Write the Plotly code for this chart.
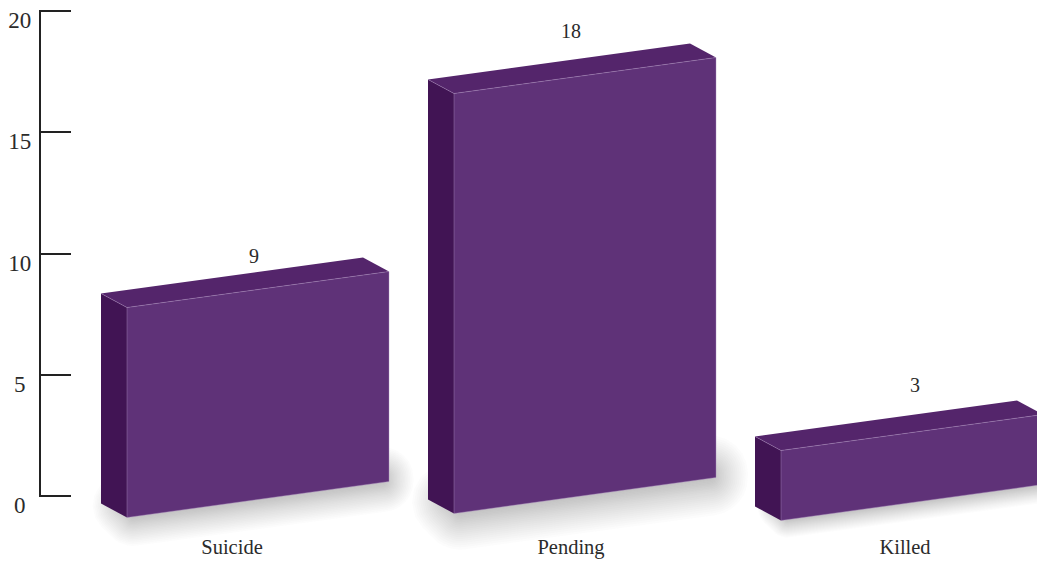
import math
import plotly.graph_objects as go

# ---------- data ----------
categories = ["Suicide", "Pending", "Killed"]
values = [9, 18, 3]
axis_ticks = [0, 5, 10, 15, 20]

# ---------- page / projection settings ----------
W, H = 1037, 563
FONT = "Liberation Serif"
TEXT = "#2b2b2b"
FRONT, TOP, SIDE = "#5f3278", "#54256b", "#411454"
EDGE = "rgba(170,140,190,0.7)"

BAND_PX = 327.0          # one band along x, in pixels
ORIGIN_PX = 127.0        # pixel column of band 0
UNIT_PX = 70 / 3         # pixels per value unit for the bars
BASE_PX = 517.5          # pixel row of the first bar's floor
AX_TOP_PX, AX_ZERO_PX = 11.0, 496.0
AX_UNIT_PX = (AX_ZERO_PX - AX_TOP_PX) / 20
AX_PAD = 1.2             # pixels of axis beyond the end ticks, so they are kept

BAR_W = 262 / BAND_PX
RISE = 36 / UNIT_PX       # how far the right end of a bar climbs
DEPTH_X = -26 / BAND_PX
DEPTH_Y = 14 / UNIT_PX
floor_shift = [0.0, 4 / UNIT_PX, -3 / UNIT_PX]
value_label_x = [(254 - ORIGIN_PX) / BAND_PX, (571 - ORIGIN_PX) / BAND_PX, (915 - ORIGIN_PX) / BAND_PX]
value_label_lift = [17.5, 28.5, 32]
cat_label_x = [(232 - ORIGIN_PX) / BAND_PX, (571 - ORIGIN_PX) / BAND_PX, (905 - ORIGIN_PX) / BAND_PX]


def px_x(dx):
    return dx / BAND_PX


def px_y(dy):
    return dy / UNIT_PX


def rounded_outset(points, r):
    """Rounded outset of a convex polygon, worked in pixel space."""
    pts = [((x * BAND_PX), (y * UNIT_PX)) for x, y in points]
    cx = sum(p[0] for p in pts) / len(pts)
    cy = sum(p[1] for p in pts) / len(pts)
    pts = sorted(pts, key=lambda p: math.atan2(p[1] - cy, p[0] - cx))
    out = []
    n = len(pts)
    for i in range(n):
        p0, p1, p2 = pts[i - 1], pts[i], pts[(i + 1) % n]
        a0 = math.atan2(-(p1[0] - p0[0]), p1[1] - p0[1])
        a1 = math.atan2(-(p2[0] - p1[0]), p2[1] - p1[1])
        if a1 < a0:
            a1 += 2 * math.pi
        for s in range(7):
            a = a0 + (a1 - a0) * s / 6
            out.append((p1[0] + r * math.cos(a), p1[1] + r * math.sin(a)))
    out.append(out[0])
    return [p[0] / BAND_PX for p in out], [p[1] / UNIT_PX for p in out]


fig = go.Figure()


def poly(xs, ys, color, **kw):
    fig.add_trace(go.Scatter(x=xs, y=ys, yaxis="y2", mode="lines", fill="toself",
                             fillcolor=color, line=dict(width=0), hoverinfo="skip",
                             showlegend=False, **kw))


# soft floor shadows
for i, v in enumerate(values):
    x0, x1 = i, i + BAR_W
    f = floor_shift[i]
    k = {3: 0.5, 9: 0.8, 18: 1.0}.get(v, 1.0)
    core = [
        (x0 + px_x(-4), f + px_y(12)),
        (x0 + px_x(6), f + px_y(2)),
        (x1 - px_x(6), f + RISE),
        (x1 - px_x(6), f + RISE + px_y(4)),
    ]
    layers = 22
    spread = 38 * k
    alpha = 0.021 if v > 3 else 0.02
    for l in range(layers):
        r = spread * (1 - l / layers) ** 1.25
        xs, ys = rounded_outset(core, r)
        poly(xs, ys, f"rgba(78,80,86,{alpha})")

# the boxes
for i, v in enumerate(values):
    x0, x1 = i, i + BAR_W
    f = floor_shift[i]
    bl, br = f, f + RISE
    tl, tr = f + v, f + RISE + v
    poly([x0 + DEPTH_X, x0, x0, x0 + DEPTH_X, x0 + DEPTH_X],
         [bl + DEPTH_Y, bl, tl, tl + DEPTH_Y, bl + DEPTH_Y], SIDE)
    poly([x0, x1, x1 + DEPTH_X, x0 + DEPTH_X, x0],
         [tl, tr, tr + DEPTH_Y, tl + DEPTH_Y, tl], TOP)
    poly([x0, x1, x1, x0, x0], [bl, br, tr, tl, bl], FRONT)
    fig.add_trace(go.Scatter(
        x=[x0 + DEPTH_X, x0, x1, x1, x0, None, x0, x0],
        y=[tl + DEPTH_Y, tl, tr, br, bl, None, bl, tl],
        yaxis="y2", mode="lines", line=dict(color=EDGE, width=0.6),
        hoverinfo="skip", showlegend=False))

# value labels above each box
fig.add_trace(go.Scatter(
    x=value_label_x,
    y=[floor_shift[i] + v + RISE / 2 + DEPTH_Y + px_y(value_label_lift[i]) for i, v in enumerate(values)],
    yaxis="y2", mode="text", text=[str(v) for v in values],
    textposition="middle center",
    textfont=dict(family=FONT, size=20, color=TEXT),
    hoverinfo="skip", showlegend=False))

# invisible trace that keeps the printed value axis alive
fig.add_trace(go.Scatter(x=[None], y=[None], yaxis="y", mode="markers",
                         hoverinfo="skip", showlegend=False))

pad_units = AX_PAD / AX_UNIT_PX
# single digits sit centred over the two-digit labels: pad with a quarter-em space
axis_text = [str(t) + ("\u2005" if t < 10 else "") for t in axis_ticks]
fig.update_layout(
    width=W, height=H,
    margin=dict(l=0, r=0, t=0, b=0, autoexpand=False),
    paper_bgcolor="white", plot_bgcolor="rgba(0,0,0,0)",
    showlegend=False,
    xaxis=dict(
        domain=[0, 1], anchor="y", automargin=False,
        range=[-ORIGIN_PX / BAND_PX, (W - ORIGIN_PX) / BAND_PX],
        tickmode="array", tickvals=cat_label_x, ticktext=categories,
        showgrid=False, zeroline=False, showline=False, ticks="",
        ticklabelstandoff=35,
        tickfont=dict(family=FONT, size=20.5, color=TEXT),
    ),
    yaxis=dict(
        domain=[(H - AX_ZERO_PX - AX_PAD) / H, (H - AX_TOP_PX + AX_PAD) / H],
        range=[axis_ticks[0] - pad_units, axis_ticks[-1] + pad_units],
        anchor="free", position=40 / W, automargin=False,
        tickmode="array", tickvals=axis_ticks, ticktext=axis_text,
        ticks="inside", ticklen=30, tickwidth=2.4, tickcolor="#222222",
        showline=True, linewidth=2.4, linecolor="#222222",
        showgrid=False, zeroline=False,
        ticklabelshift=9, ticklabelstandoff=3,
        tickfont=dict(family=FONT, size=23, color=TEXT),
    ),
    yaxis2=dict(
        domain=[0, 1], anchor="x", automargin=False,
        range=[-(H - BASE_PX) / UNIT_PX, BASE_PX / UNIT_PX],
        visible=False,
    ),
)

fig.write_html("out.html", config={"displayModeBar": False},
               post_script="document.body.style.margin='0';")
